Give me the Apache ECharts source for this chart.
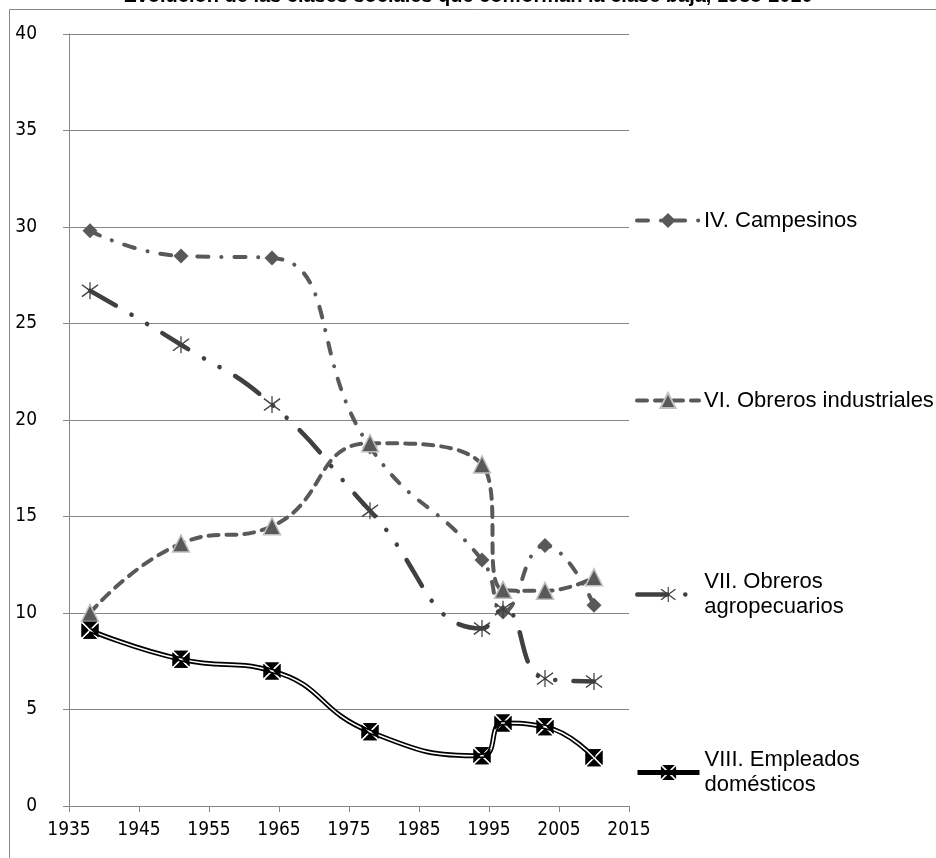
<!DOCTYPE html>
<html>
<head>
<meta charset="utf-8">
<script src="https://cdn.jsdelivr.net/npm/echarts@6/dist/echarts.min.js"></script>
<style>html,body{margin:0;padding:0;background:#fff}#c{width:936px;height:858px}</style>
</head>
<body>
<div id="c"></div>
<script>
// ---- data ----
const years = [1938, 1951, 1964, 1978, 1994, 1997, 2003, 2010];
const campesinos = [29.8, 28.5, 28.4, 18.6, 12.75, 10.05, 13.5, 10.4];
const obrerosIndustriales = [10.0, 13.6, 14.5, 18.8, 17.7, 11.2, 11.15, 11.85];
const obrerosAgropecuarios = [26.7, 23.9, 20.8, 15.3, 9.2, 10.2, 6.6, 6.45];
const empleadosDomesticos = [9.1, 7.6, 7.0, 3.85, 2.6, 4.3, 4.1, 2.5];
const seriesNames = ['IV. Campesinos', 'VI. Obreros industriales', 'VII. Obreros\nagropecuarios', 'VIII. Empleados\ndomésticos'];
const titleText = 'Evolución de las clases sociales que conforman la clase baja, 1938-2010';
const xMin = 1935, xMax = 2015, xStep = 10;
const yMin = 0, yMax = 40, yStep = 5;

const pair = (xs, ys) => xs.map((x, i) => [x, ys[i]]);

const asterisk = 'path://M9.3,0 L10.7,0 L10.7,20 L9.3,20 Z M1.49,2.37 L19.49,16.37 L18.51,17.63 L0.51,3.63 Z M0.51,16.37 L18.51,2.37 L19.49,3.63 L1.49,17.63 Z';
const boxX = 'path://M1.6,0 L18.4,0 L10,8.4 Z M20,1.6 L20,18.4 L11.6,10 Z M18.4,20 L1.6,20 L10,11.6 Z M0,18.4 L0,1.6 L8.4,10 Z';

const labelFont = '"Liberation Sans Narrow", "DejaVu Sans Condensed", "Liberation Sans", sans-serif';
const legendFont = '"Liberation Sans", Arial, sans-serif';

function legendAt(name, top, twoLine) {
  return {
    data: [name],
    left: 635, top: top,
    orient: 'vertical',
    padding: 0,
    itemWidth: 62, itemHeight: 19, itemGap: 0,
    selectedMode: false,
    lineStyle: {width: 'inherit', type: 'inherit'},
    textStyle: {
      fontFamily: legendFont, fontSize: 22, color: '#000', lineHeight: 25,
      padding: twoLine ? [25, 0, 0, 0] : 0
    }
  };
}

const chart = echarts.init(document.getElementById('c'), null, {renderer: 'canvas'});
chart.setOption({
  backgroundColor: '#fff',
  animation: false,
  title: {
    text: titleText, left: 'center', top: -19,
    textStyle: {fontFamily: legendFont, fontSize: 20, fontWeight: 'bold', color: '#000'}
  },
  graphic: [{
    type: 'rect', shape: {x: 9.5, y: 9.5, width: 1000, height: 1000},
    style: {fill: 'none', stroke: '#868686', lineWidth: 1}, z: -1
  }],
  legend: [
    legendAt(seriesNames[0], 208, false),
    legendAt(seriesNames[1], 388, false),
    legendAt(seriesNames[2], 557, true),
    legendAt(seriesNames[3], 735, true)
  ],
  grid: {left: 69, right: 307, top: 34, bottom: 52, containLabel: false},
  xAxis: {
    type: 'value', min: xMin, max: xMax, interval: xStep,
    axisLine: {show: true, lineStyle: {color: '#868686', width: 1}},
    axisTick: {show: true, length: 6, inside: false, lineStyle: {color: '#868686'}},
    splitLine: {show: false},
    axisLabel: {fontFamily: labelFont, fontSize: 19, color: '#000', margin: 15,
                formatter: v => String(v)}
  },
  yAxis: {
    type: 'value', min: yMin, max: yMax, interval: yStep,
    axisLine: {show: true, onZero: false, lineStyle: {color: '#868686', width: 1}},
    axisTick: {show: true, length: 6, lineStyle: {color: '#868686'}},
    splitLine: {show: true, lineStyle: {color: '#868686', width: 1}},
    axisLabel: {fontFamily: labelFont, fontSize: 19, color: '#000', margin: 32}
  },
  series: [
    {
      name: seriesNames[0], type: 'line', smooth: 0.5, z: 3,
      data: pair(years, campesinos),
      symbol: 'diamond', symbolSize: 15, showAllSymbol: true,
      lineStyle: {color: '#595959', width: 4, type: [11, 13, 0.1, 13], cap: 'round'},
      itemStyle: {color: '#595959', borderWidth: 0}
    },
    {
      name: seriesNames[1], type: 'line', smooth: 0.5, z: 4,
      data: pair(years, obrerosIndustriales),
      symbol: 'triangle', symbolSize: 17, showAllSymbol: true,
      lineStyle: {color: '#595959', width: 4, type: [10, 8], cap: 'round'},
      itemStyle: {color: '#595959', borderColor: '#bfbfbf', borderWidth: 1.5}
    },
    {
      name: seriesNames[2], type: 'line', smooth: 0.5, z: 5,
      data: pair(years, obrerosAgropecuarios),
      symbol: asterisk, symbolSize: 17, showAllSymbol: true,
      lineStyle: {color: '#404040', width: 4.5, type: [30, 18, 0.1, 18, 0.1, 18], cap: 'round'},
      itemStyle: {color: '#404040', borderWidth: 0}
    },
    {
      name: seriesNames[3], type: 'line', smooth: 0.5, z: 6,
      data: pair(years, empleadosDomesticos),
      symbol: boxX, symbolSize: 17, showAllSymbol: true,
      lineStyle: {color: '#000', width: 5},
      itemStyle: {color: '#000', borderWidth: 0}
    },
    {
      name: '_inner', type: 'line', smooth: 0.5, z: 7, silent: true,
      data: pair(years, empleadosDomesticos),
      showSymbol: false, symbol: 'none',
      lineStyle: {color: '#fff', width: 1.6}
    },
    {
      name: '_marks', type: 'line', smooth: 0.5, z: 8, silent: true,
      data: pair(years, empleadosDomesticos),
      symbol: boxX, symbolSize: 17, showAllSymbol: true,
      lineStyle: {opacity: 0, width: 0},
      itemStyle: {color: '#000', borderWidth: 0}
    }
  ]
});
</script>
</body>
</html>
